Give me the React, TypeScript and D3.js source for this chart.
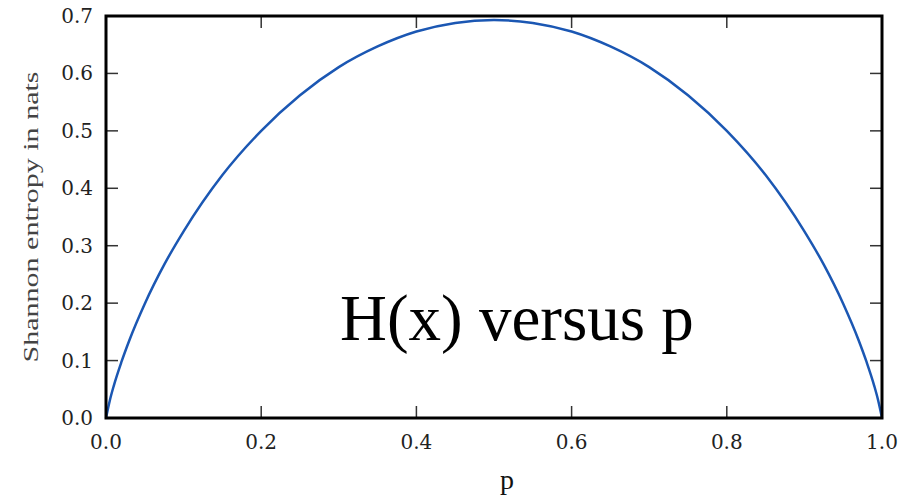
import * as d3 from "d3";
import { useEffect, useRef } from "react";

// values
const pValues = [0, 0.005, 0.01, 0.02, 0.03, 0.05, 0.075, 0.1, 0.15, 0.2, 0.25, 0.3, 0.35, 0.4, 0.45, 0.5,
  0.55, 0.6, 0.65, 0.7, 0.75, 0.8, 0.85, 0.9, 0.925, 0.95, 0.97, 0.98, 0.99, 0.995, 1];
const entropyValues = [0, 0.031, 0.056, 0.098, 0.135, 0.199, 0.267, 0.325, 0.423, 0.5, 0.562, 0.611, 0.647, 0.673, 0.688, 0.693,
  0.688, 0.673, 0.647, 0.611, 0.562, 0.5, 0.423, 0.325, 0.267, 0.199, 0.135, 0.098, 0.056, 0.031, 0];
const xTicks = [0, 0.2, 0.4, 0.6, 0.8, 1.0];
const yTicks = [0, 0.1, 0.2, 0.3, 0.4, 0.5, 0.6, 0.7];

export default function App() {
  const svgRef = useRef<SVGSVGElement>(null);

  useEffect(() => {
    if (!svgRef.current) return;
    const svg = d3.select(svgRef.current);
    svg.selectAll("*").remove();

    const left = 106, right = 882, top = 16, bottom = 418;
    const x = d3.scaleLinear().domain([0, 1]).range([left, right]);
    const y = d3.scaleLinear().domain([0, 0.7]).range([bottom, top]);
    const tickFont = "'DejaVu Serif', serif";

    // curve
    const data = pValues.map((p, i) => ({ p, h: entropyValues[i] }));
    const line = d3
      .line<{ p: number; h: number }>()
      .x((d) => x(d.p))
      .y((d) => y(d.h))
      .curve(d3.curveMonotoneX);
    svg.append("path")
      .datum(data)
      .attr("d", line)
      .attr("fill", "none")
      .attr("stroke", "#1b57b3")
      .attr("stroke-width", 2.5);

    // ticks, inward on all four sides
    const tickLen = 12;
    const g = svg.append("g").attr("stroke", "#333").attr("stroke-width", 1.5);
    xTicks.forEach((t) => {
      g.append("line").attr("x1", x(t)).attr("x2", x(t)).attr("y1", bottom).attr("y2", bottom - tickLen);
      g.append("line").attr("x1", x(t)).attr("x2", x(t)).attr("y1", top).attr("y2", top + tickLen);
    });
    yTicks.forEach((t) => {
      g.append("line").attr("x1", left).attr("x2", left + tickLen).attr("y1", y(t)).attr("y2", y(t));
      g.append("line").attr("x1", right).attr("x2", right - tickLen).attr("y1", y(t)).attr("y2", y(t));
    });

    // frame
    svg.append("rect")
      .attr("x", left).attr("y", top)
      .attr("width", right - left).attr("height", bottom - top)
      .attr("fill", "none").attr("stroke", "#000").attr("stroke-width", 3);

    // tick labels
    svg.selectAll(".xl")
      .data(xTicks)
      .enter()
      .append("text")
      .attr("x", (d) => x(d))
      .attr("y", 449)
      .attr("text-anchor", "middle")
      .attr("font-family", tickFont)
      .attr("font-size", 20)
      .attr("fill", "#222")
      .text((d) => d.toFixed(1));
    svg.selectAll(".yl")
      .data(yTicks)
      .enter()
      .append("text")
      .attr("x", 93)
      .attr("y", (d) => y(d) + 7)
      .attr("text-anchor", "end")
      .attr("font-family", tickFont)
      .attr("font-size", 20)
      .attr("fill", "#222")
      .text((d) => d.toFixed(1));

    // axis labels
    svg.append("text")
      .attr("x", 507).attr("y", 489)
      .attr("text-anchor", "middle")
      .attr("font-family", "'Liberation Serif', serif")
      .attr("font-size", 28)
      .attr("fill", "#111")
      .text("p");
    svg.append("text")
      .attr("transform", "translate(38,217) rotate(-90)")
      .attr("text-anchor", "middle")
      .attr("font-family", "'Liberation Serif', serif")
      .attr("font-size", 22)
      .attr("textLength", 291)
      .attr("lengthAdjust", "spacingAndGlyphs")
      .attr("fill", "#444")
      .text("Shannon entropy in nats");

    // annotation
    svg.append("text")
      .attr("x", 340).attr("y", 340)
      .attr("font-family", "'Liberation Serif', serif")
      .attr("font-size", 65)
      .attr("fill", "#000")
      .text("H(x) versus p");
  }, []);

  return (
    <svg
      ref={svgRef}
      width={906}
      height={496}
      style={{ position: "absolute", left: 0, top: 0, background: "#fff" }}
    />
  );
}
